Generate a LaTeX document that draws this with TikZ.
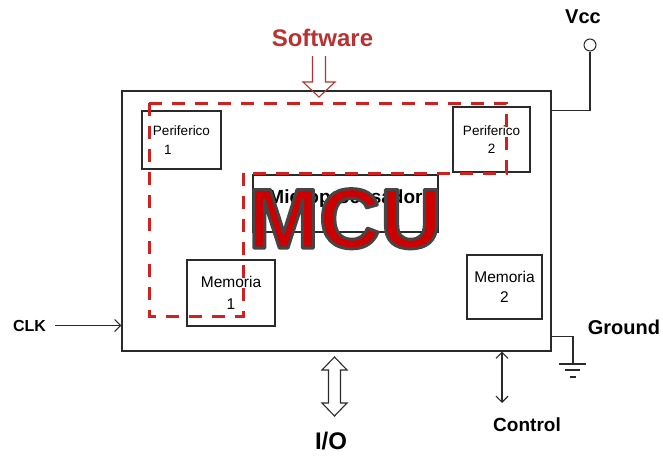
\documentclass[tikz,border=0pt]{standalone}
\usepackage{fontspec}
\setmainfont{Liberation Sans}
\usetikzlibrary{arrows.meta,calc}

\definecolor{mcured}{HTML}{CC0000}
\definecolor{dashred}{HTML}{D02020}
\definecolor{softred}{HTML}{B83232}
\definecolor{wire}{HTML}{2A2A2A}

% outlined letters (fill + stroke)
\newcommand{\outlinetext}[1]{\special{pdf:literal direct 2 Tr 0.27 0.27 0.27 RG 3 w 1 j}#1\special{pdf:literal direct 0 Tr}}

\tikzset{
  blockbox/.style={draw=wire, line width=1.2pt, rectangle, inner sep=0pt, align=center},
  pinlabel/.style={font=\bfseries, anchor=base, inner sep=0pt},
  >={Straight Barb[length=6pt,width=12pt]}
}

\begin{document}
\begin{tikzpicture}[x=1pt, y=-1pt]
    \useasboundingbox (0,0) rectangle (663,455);

    % chip and blocks
    \node[blockbox, minimum width=429pt, minimum height=260pt] (mcu) at (336.5,221) {};
    \node[blockbox, minimum width=79pt, minimum height=58pt, font=\fontsize{13.5}{19}\selectfont] (per1) at (181.5,140) {Periferico\\1\hspace*{27pt}};
    \node[blockbox, minimum width=77pt, minimum height=65pt, font=\fontsize{13.5}{18}\selectfont] (per2) at (491.5,139.5) {Periferico\\2};
    \node[blockbox, minimum width=185pt, minimum height=57pt, text height=14pt, text depth=15pt, font=\bfseries\fontsize{19}{22}\selectfont] (micro) at (345.5,203.5) {Microprocesador};
    \node[blockbox, minimum width=88pt, minimum height=66pt, font=\fontsize{15.5}{22}\selectfont] (mem1) at (231,293) {Memoria\\1};
    \node[blockbox, minimum width=75pt, minimum height=64pt, font=\fontsize{15.5}{20}\selectfont] (mem2) at (504.5,287) {Memoria\\2};

    % software area
    \draw[dashred, line width=3pt, dash pattern=on 13pt off 10pt] (149,103) -- (506,103) -- (506,173) -- (243,173) -- (243,316) -- (149,316) -- cycle;

    % labels
    \node[pinlabel, text=softred, font=\bfseries\fontsize{24}{28}\selectfont] (soft) at (322.5,46) {Software};
    \node[pinlabel, font=\bfseries\fontsize{20}{24}\selectfont] (vcc) at (583,23) {Vcc};
    \node[pinlabel, font=\bfseries\fontsize{16}{20}\selectfont] (clk) at (29.5,331) {CLK};
    \node[pinlabel, font=\bfseries\fontsize{20}{24}\selectfont] (gnd) at (624,334) {Ground};
    \node[pinlabel, font=\bfseries\fontsize{24}{28}\selectfont] (io) at (331,449) {I/O};
    \node[pinlabel, font=\bfseries\fontsize{19}{23}\selectfont] (ctl) at (527,431) {Control};

    % software input
    \draw[softred, line width=1.1pt, line join=miter] (312.5,56) -- (312.5,82) -- (303,82) -- (319,97) -- (335,82) -- (325.5,82) -- (325.5,56);

    % I/O bus
    \draw[wire, line width=1.1pt] (334.5,357) -- (347,370) -- (340.5,370) -- (340.5,403) -- (347,403) -- (334.5,416) -- (322,403) -- (328.5,403) -- (328.5,370) -- (322,370) -- cycle;

    % supply
    \node[circle, draw=wire, line width=1pt, fill=white, minimum size=12pt, inner sep=0pt] (vccpin) at (590,45) {};
    \draw[wire, line width=1.2pt] (vccpin.south) |- ($(mcu.north east)+(0,20)$);

    % ground
    \coordinate (gndpt) at (573,364);
    \draw[wire, line width=1.2pt] ($(mcu.south east)+(0,-15)$) -| (gndpt);
    \draw[wire, line width=1.4pt] (559,364) -- (586,364);
    \draw[wire, line width=1.4pt] (565,370) -- (580,370);
    \draw[wire, line width=1.4pt] (570,377) -- (576,377);

    % clock and control
    \draw[->, wire, line width=1.1pt] ([xshift=9pt]clk.east) -- (clk.east -| mcu.west);
    \coordinate (ctlend) at (502,403);
    \draw[<->, wire, line width=1.1pt] (ctlend |- mcu.south) -- (ctlend);

    % big title
    \node[anchor=base, inner sep=0pt, text=mcured, font=\bfseries\fontsize{85}{85}\selectfont] (mcutxt) at (345,248) {\outlinetext{MCU}};
\end{tikzpicture}
\end{document}
